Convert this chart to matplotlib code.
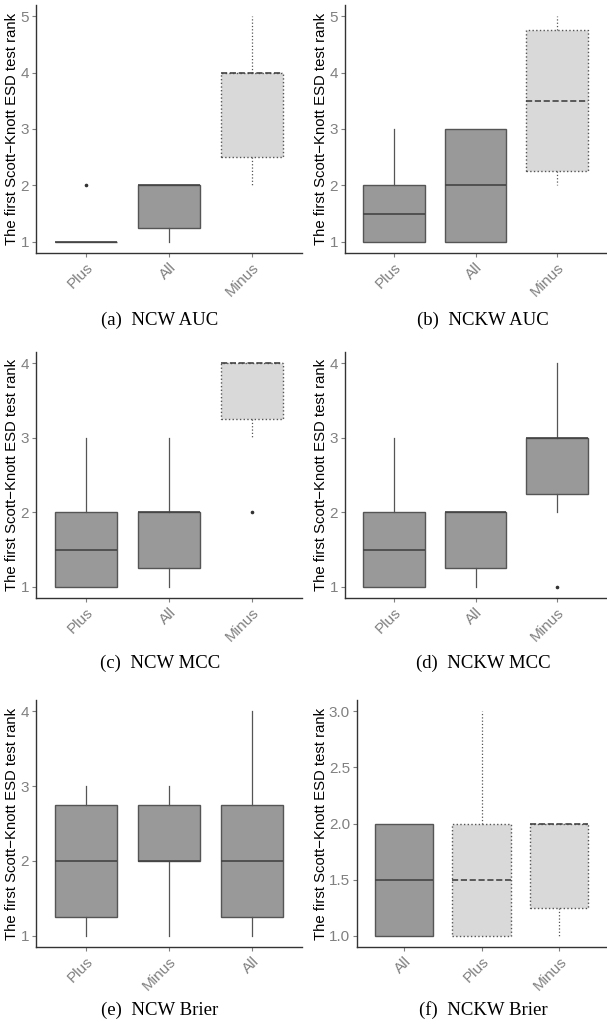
import matplotlib
matplotlib.use('Agg')
from matplotlib import pyplot as plt

plt.rcParams['font.family'] = ['Liberation Sans', 'DejaVu Sans']

W, H = 607, 1025

# box statistics per panel: (label, whislo, q1, med, q3, whishi, fliers, light)
captions = ['(a)  NCW AUC', '(b)  NCKW AUC', '(c)  NCW MCC',
            '(d)  NCKW MCC', '(e)  NCW Brier', '(f)  NCKW Brier']

ncw_auc = [('Plus', 1, 1, 1, 1, 1, [2], False),
           ('All', 1, 1.25, 2, 2, 2, [], False),
           ('Minus', 2, 2.5, 4, 4, 5, [], True)]
nckw_auc = [('Plus', 1, 1, 1.5, 2, 3, [], False),
            ('All', 1, 1, 2, 3, 3, [], False),
            ('Minus', 2, 2.25, 3.5, 4.75, 5, [], True)]
ncw_mcc = [('Plus', 1, 1, 1.5, 2, 3, [], False),
           ('All', 1, 1.25, 2, 2, 3, [], False),
           ('Minus', 3, 3.25, 4, 4, 4, [2], True)]
nckw_mcc = [('Plus', 1, 1, 1.5, 2, 3, [], False),
            ('All', 1, 1.25, 2, 2, 2, [], False),
            ('Minus', 2, 2.25, 3, 3, 4, [1], False)]
ncw_brier = [('Plus', 1, 1.25, 2, 2.75, 3, [], False),
             ('Minus', 1, 2, 2, 2.75, 3, [], False),
             ('All', 1, 1.25, 2, 2.75, 4, [], False)]
nckw_brier = [('All', 1, 1, 1.5, 2, 2, [], False),
              ('Plus', 1, 1, 1.5, 2, 3, [], True),
              ('Minus', 1, 1.25, 2, 2, 2, [], True)]

panels = [ncw_auc, nckw_auc, ncw_mcc, nckw_mcc, ncw_brier, nckw_brier]

yticks = [[1, 2, 3, 4, 5], [1, 2, 3, 4, 5], [1, 2, 3, 4],
          [1, 2, 3, 4], [1, 2, 3, 4], [1.0, 1.5, 2.0, 2.5, 3.0]]

# axes boxes in pixels: left, right, top, bottom
boxes = [(36, 302, 5, 253), (345, 606, 5, 253),
         (36, 302, 352, 598), (345, 606, 352, 598),
         (36, 302, 700, 947), (357, 606, 700, 947)]
caption_y = [320, 320, 663, 663, 1010, 1010]
caption_x = [160, 483, 160, 483, 160, 483]

DARK_FILL = '#999999'
LIGHT_FILL = '#d9d9d9'
EDGE = '#555555'
TICK_COLOR = '#808080'

fig = plt.figure(figsize=(W / 100, H / 100), dpi=100)

for k, data in enumerate(panels):
    l, r, t, b = boxes[k]
    ax = fig.add_axes([l / W, 1 - b / H, (r - l) / W, (b - t) / H])
    for i, (lab, wlo, q1, med, q3, whi, fl, light) in enumerate(data):
        st = [dict(label=lab, whislo=wlo, q1=q1, med=med, q3=q3, whishi=whi, fliers=fl)]
        ls = ':' if light else '-'
        ax.bxp(st, positions=[i + 1], widths=0.75, patch_artist=True,
               showcaps=False,
               boxprops=dict(facecolor=LIGHT_FILL if light else DARK_FILL,
                             edgecolor=EDGE, linewidth=1.0, linestyle=ls),
               whiskerprops=dict(color=EDGE, linewidth=0.9, linestyle=ls),
               medianprops=dict(color='#444444', linewidth=1.2,
                                linestyle='--' if light else '-'),
               flierprops=dict(marker='o', markersize=1.6, markerfacecolor='#333333',
                               markeredgecolor='#333333'))
    yt = yticks[k]
    span = yt[-1] - yt[0]
    ax.set_ylim(yt[0] - 0.05 * span, yt[-1] + 0.05 * span)
    ax.set_xlim(0.4, 3.6)
    ax.set_yticks(yt)
    if k == 5:
        ax.set_yticklabels(['%.1f' % v for v in yt])
    else:
        ax.set_yticklabels(['%d' % v for v in yt])
    ax.set_xticks([1, 2, 3])
    ax.set_xticklabels([d[0] for d in data], rotation=45, ha='right',
                       rotation_mode='anchor')
    ax.tick_params(axis='both', colors=TICK_COLOR, labelcolor=TICK_COLOR,
                   labelsize=11, length=3, width=0.8, pad=2)
    for s in ['top', 'right']:
        ax.spines[s].set_visible(False)
    for s in ['left', 'bottom']:
        ax.spines[s].set_color('#333333')
        ax.spines[s].set_linewidth(1.0)
    ax.set_ylabel('The first Scott\u2212Knott ESD test rank', fontsize=10.7,
                  color='black', labelpad=1)
    fig.text(caption_x[k] / W, 1 - caption_y[k] / H, captions[k],
             family='Liberation Serif', fontsize=13.5, ha='center', va='center')

fig.savefig('out.png', dpi=100)
